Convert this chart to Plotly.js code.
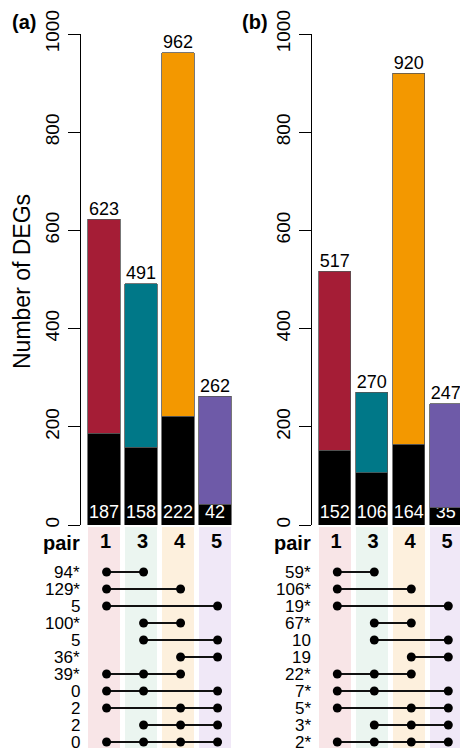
<!DOCTYPE html>
<html>
<head>
<meta charset="utf-8">
<script src="https://cdn.plot.ly/plotly-3.0.1.min.js"></script>
<style>html,body{margin:0;padding:0;background:#fff;}#chart{width:460px;height:748px;}</style>
</head>
<body>
<div id="chart"></div>
<script>
// ---------- data ----------
const pairs = ["1", "3", "4", "5"];
const totalsA = [623, 491, 962, 262];
const sharedA = [187, 158, 222, 42];
const totalsB = [517, 270, 920, 247];
const sharedB = [152, 106, 164, 35];
const rowLabelsA = ["94*", "129*", "5", "100*", "5", "36*", "39*", "0", "2", "2", "0"];
const rowLabelsB = ["59*", "106*", "19*", "67*", "10", "19", "22*", "7*", "5*", "3*", "2*"];
const rowSets = [["1","3"],["1","4"],["1","5"],["3","4"],["3","5"],["4","5"],
                 ["1","3","4"],["1","3","5"],["1","4","5"],["3","4","5"],["1","3","4","5"]];
const barColors = ["#a51d36", "#007888", "#f39800", "#6e5aa8"];
const stripeColors = ["#f8e5e7", "#ebf5f0", "#fdf0dd", "#f0e8f7"];

// ---------- layout helpers ----------
const W = 460, H = 748;
const FONT = "Liberation Sans, Arial, Helvetica, sans-serif";
const PXU = 37;            // pixels per category
const BARW = 32.3 / PXU;
const DOT_SHIFT = 0.07;
const px = p => p / W;
const py = p => 1 - p / H;
const idx = pairs.map((_, i) => i);

const traces = [];
const annotations = [];
function panel(n, totals, shared, labels, labelRight) {
  const xa = n === 1 ? "x" : "x2", ya = n === 1 ? "y" : "y2";
  const xm = n === 1 ? "x3" : "x4", ym = n === 1 ? "y3" : "y4";
  // black shared part
  traces.push({type: "bar", x: idx, y: shared, xaxis: xa, yaxis: ya, width: BARW,
    marker: {color: "#000", line: {color: "#555", width: 0.8}},
    text: shared.map(String), textposition: "inside", insidetextanchor: "start",
    constraintext: "none", textangle: 0,
    textfont: {color: "#fff", size: 18, family: FONT}, hoverinfo: "skip"});
  // colored unique part
  traces.push({type: "bar", x: idx, y: totals.map((t, i) => t - shared[i]), xaxis: xa, yaxis: ya,
    width: BARW, marker: {color: barColors, line: {color: "#555", width: 0.8}}, hoverinfo: "skip"});
  // totals above
  traces.push({type: "scatter", mode: "text", x: idx, y: totals, xaxis: xa, yaxis: ya,
    text: totals.map(String), textposition: "top center", cliponaxis: false,
    textfont: {size: 18, color: "#000", family: FONT}, hoverinfo: "skip"});
  // stripes
  traces.push({type: "bar", x: idx, y: idx.map(() => 13), base: -2.647, xaxis: xm, yaxis: ym,
    width: BARW, marker: {color: stripeColors, line: {width: 0}}, hoverinfo: "skip"});
  // column labels
  traces.push({type: "scatter", mode: "text", x: idx.map(i => i + DOT_SHIFT - 0.03), y: idx.map(() => -1.72),
    xaxis: xm, yaxis: ym, text: pairs.map(p => "<b>" + p + "</b>"), textposition: "middle center",
    cliponaxis: false, textfont: {size: 20, color: "#000", family: FONT}, hoverinfo: "skip"});
  // rows
  rowSets.forEach((set, r) => {
    const xs = set.map(p => pairs.indexOf(p) + DOT_SHIFT);
    traces.push({type: "scatter", mode: "lines+markers", x: xs, y: xs.map(() => r),
      xaxis: xm, yaxis: ym, line: {color: "#111", width: 2},
      marker: {color: "#000", size: 9}, cliponaxis: false, hoverinfo: "skip"});
  });
  // row labels
  annotations.push({text: "<b>pair</b>", xref: "paper", yref: ym, x: px(labelRight), y: -1.72,
    xanchor: "right", yanchor: "middle", showarrow: false, borderpad: 0,
    font: {size: 20, family: FONT, color: "#000"}});
  labels.forEach((t, r) => annotations.push({text: t, xref: "paper", yref: ym, x: px(labelRight), y: r,
    xanchor: "right", yanchor: "middle", showarrow: false, borderpad: 0,
    font: {size: 17, family: FONT, color: "#000"}}));
}
panel(1, totalsA, sharedA, rowLabelsA, 81);
panel(2, totalsB, sharedB, rowLabelsB, 311.5);

const barY = {
  range: [0, 1000], dtick: 200, tick0: 0, showline: true, linecolor: "#000", linewidth: 1,
  ticks: "outside", ticklen: 12, tickwidth: 1, tickcolor: "#000", tickangle: -90,
  ticklabelstandoff: 1, showgrid: false, zeroline: false,
  tickfont: {size: 19, color: "#000", family: FONT}, fixedrange: true,
  domain: [py(525), py(34)]
};
const rowY = anchor => ({
  range: [10.353, -2.647], domain: [0, py(527)], visible: false, anchor: anchor, fixedrange: true
});
const hidX = (dom, rng, anchor) => ({domain: dom, range: rng, visible: false, anchor: anchor, fixedrange: true});

const domA = [px(81), px(240)], rngA = [-23 / PXU, (240 - 104) / PXU];
const domB = [px(311.7), 1], rngB = [-23 / PXU, (460 - 334.7) / PXU];

annotations.push(
  {text: "Number of DEGs", xref: "paper", yref: "paper", x: px(22), y: py(282),
   textangle: -90, showarrow: false, font: {size: 23, family: FONT}, xanchor: "center", yanchor: "middle"},
  {text: "<b>(a)</b>", xref: "paper", yref: "paper", x: px(24), y: py(22),
   showarrow: false, font: {size: 20, family: FONT}, xanchor: "center", yanchor: "middle"},
  {text: "<b>(b)</b>", xref: "paper", yref: "paper", x: px(255), y: py(22),
   showarrow: false, font: {size: 20, family: FONT}, xanchor: "center", yanchor: "middle"}
);

const layout = {
  width: W, height: H, margin: {l: 0, r: 0, t: 0, b: 0},
  paper_bgcolor: "#fff", plot_bgcolor: "rgba(0,0,0,0)",
  showlegend: false, barmode: "stack", font: {family: FONT, color: "#000"},
  xaxis: hidX(domA, rngA, "y"),
  yaxis: Object.assign({}, barY, {anchor: "x"}),
  xaxis2: hidX(domB, rngB, "y2"),
  yaxis2: Object.assign({}, barY, {anchor: "x2"}),
  xaxis3: hidX(domA, rngA, "y3"),
  yaxis3: rowY("x3"),
  xaxis4: hidX(domB, rngB, "y4"),
  yaxis4: rowY("x4"),
  annotations: annotations
};

Plotly.newPlot("chart", traces, layout, {displayModeBar: false, staticPlot: true});
</script>
</body>
</html>
